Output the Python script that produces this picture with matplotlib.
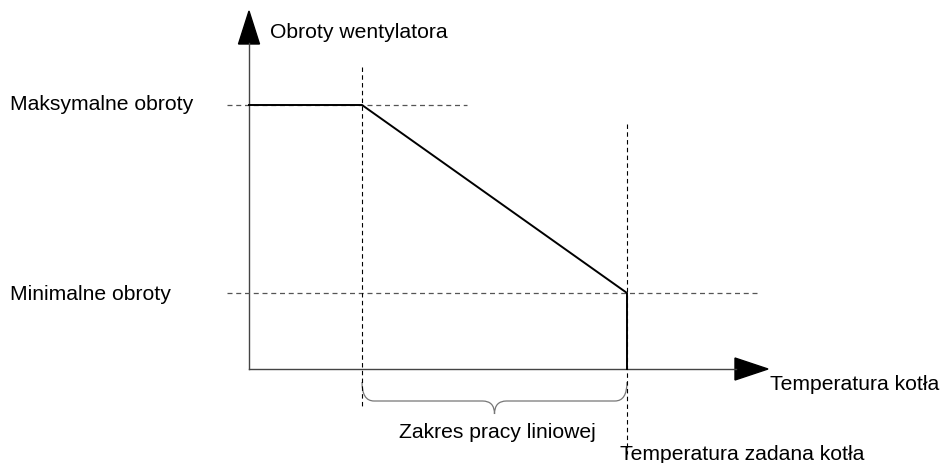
import matplotlib
matplotlib.use("Agg")
import matplotlib.pyplot as plt
from matplotlib.path import Path
from matplotlib.patches import PathPatch, Polygon

plt.rcParams['font.family'] = ['Liberation Sans', 'DejaVu Sans']

# Conceptual chart values (temperature on x, fan speed on y)
speed_max = 264
speed_min = 76
temp_linear_start = 113
temp_setpoint = 378
profile_x = [0, temp_linear_start, temp_setpoint, temp_setpoint]
profile_y = [speed_max, speed_max, speed_min, 0]

label_y_axis = "Obroty wentylatora"
label_x_axis = "Temperatura kotła"
label_max = "Maksymalne obroty"
label_min = "Minimalne obroty"
label_range = "Zakres pracy liniowej"
label_setpoint = "Temperatura zadana kotła"

fig = plt.figure(figsize=(9.42, 4.64), dpi=100)
ax = fig.add_axes([0, 0, 1, 1])
ax.set_xlim(-249, 693)
ax.set_ylim(-94, 370)
ax.axis('off')

fs = 15.2
axis_col = '#444444'
dash_col = '#555555'

# axes with arrows
ax.plot([0, 0], [0, 326], color=axis_col, lw=1.0)
ax.plot([0, 487], [0, 0], color=axis_col, lw=1.0)
ax.add_patch(Polygon([[-10.5, 325], [10.5, 325], [0, 358]], closed=True, color='black'))
ax.add_patch(Polygon([[486, 11], [486, -11], [519, 0]], closed=True, color='black'))

# dashed guides
ax.plot([-22, 218], [speed_max, speed_max], color=dash_col, lw=0.9, dashes=(4, 3))
ax.plot([-22, 509], [speed_min, speed_min], color=dash_col, lw=0.9, dashes=(4, 3))
ax.plot([temp_linear_start, temp_linear_start], [302, -38], color='black', lw=0.8, dashes=(4, 3))
ax.plot([temp_setpoint, temp_setpoint], [245, -85], color='black', lw=0.8, dashes=(4, 3))

# profile
ax.plot(profile_x, profile_y, color='black', lw=1.4, solid_joinstyle='miter')

# brace
x0, x1 = temp_linear_start, temp_setpoint
xm = (x0 + x1) / 2
top, mid, tip = -13, -32, -45
r = 12
verts = [(x0, top), (x0, mid), (x0 + r, mid),
         (xm - r, mid),
         (xm, mid), (xm, tip),
         (xm, mid), (xm + r, mid),
         (x1 - r, mid),
         (x1, mid), (x1, top)]
codes = [Path.MOVETO, Path.CURVE3, Path.CURVE3,
         Path.LINETO,
         Path.CURVE3, Path.CURVE3,
         Path.CURVE3, Path.CURVE3,
         Path.LINETO,
         Path.CURVE3, Path.CURVE3]
ax.add_patch(PathPatch(Path(verts, codes), fill=False, edgecolor='#777777', lw=0.9))

# texts
ax.text(21, 337, label_y_axis, fontsize=fs, ha='left', va='center')
ax.text(-239, 266, label_max, fontsize=fs, ha='left', va='center')
ax.text(-239, 76, label_min, fontsize=fs, ha='left', va='center')
ax.text(521, -15, label_x_axis, fontsize=fs, ha='left', va='center')
ax.text(248, -63, label_range, fontsize=fs, ha='center', va='center')
ax.text(371, -85, label_setpoint, fontsize=fs, ha='left', va='center')

fig.savefig('out.png', dpi=100)
